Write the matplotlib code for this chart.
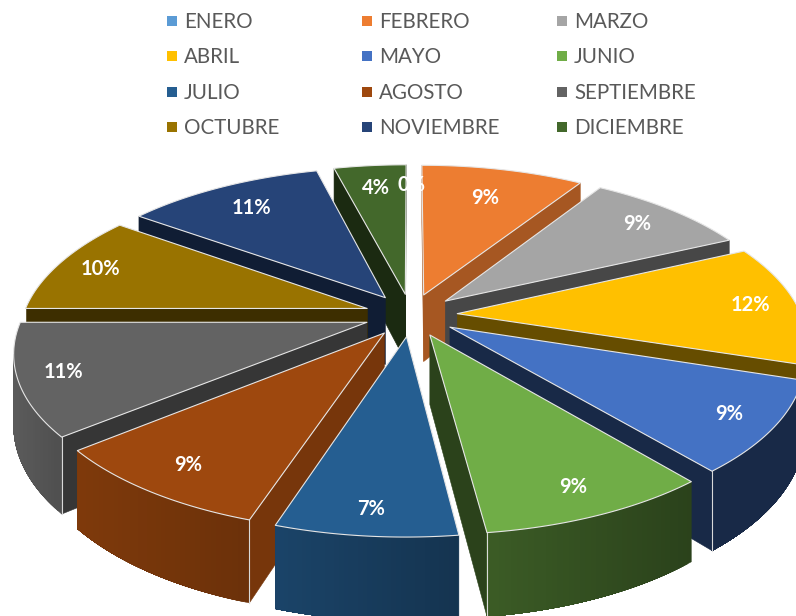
import numpy as np
import matplotlib
matplotlib.use('Agg')
import matplotlib.pyplot as plt
from matplotlib.colors import to_rgb

months = ['ENERO', 'FEBRERO', 'MARZO', 'ABRIL', 'MAYO', 'JUNIO', 'JULIO', 'AGOSTO',
          'SEPTIEMBRE', 'OCTUBRE', 'NOVIEMBRE', 'DICIEMBRE']
values = [0, 9, 9, 12, 9, 9, 7, 9, 11, 10, 11, 4]
colors = ['#5b9bd5', '#ed7d31', '#a5a5a5', '#ffc000', '#4472c4', '#70ad47',
          '#255e91', '#9e480e', '#636363', '#997300', '#264478', '#43682b']
# how dark the cut faces are, per slice
side_shade = [.6, .7, .43, .4, .36, .38, .5, .75, .55, .4, .43, .4]
# outer wall gradient, left end and right end
wall_left = [.5, .5, .5, .4, .36, .53, .72, .8, .92, .5, .5, .5]
wall_right = [.5, .5, .5, .4, .36, .38, .55, .68, .8, .5, .5, .5]
# radius of the percent label
label_r = [.82, .88, .97, 1.0, 1.01, 1.0, 1.02, .99, 1.01, 1.0, .93, .94]

CX, CY = 411, 315
RX, RY = 344, 158
PERSP = .17
EXPLODE = .135
DEPTH = 68

plt.rcParams['font.family'] = ['Lato', 'DejaVu Sans']


def project(x, y, z=0.):
    s = 1. / (1. - PERSP * y)
    return CX + RX * x * s, CY + (RY * y + DEPTH * z) * s


def rim(theta, r, off):
    return off[0] + r * np.sin(theta), off[1] - r * np.cos(theta)


def area(px, py):
    return 0.5 * np.sum(px * np.roll(py, -1) - np.roll(px, -1) * py)


def shade(color, f):
    return tuple(c * f for c in to_rgb(color))


def draw_wedge(ax, i, a0, a1):
    mid = (a0 + a1) / 2
    off = (EXPLODE * np.sin(mid), -EXPLODE * np.cos(mid))
    color = colors[i]
    thetas = np.linspace(a0, a1, 40)
    wx, wy = rim(thetas, 1., off)

    # cut faces, only the ones turned to the viewer
    face_on = []
    for t, sign in ((a0, 1), (a1, -1)):
        ex, ey = rim(t, 1., off)
        xs = np.array([off[0], ex, ex, off[0]])
        ys = np.array([off[1], ey, ey, off[1]])
        zs = np.array([0, 0, 1, 1])
        px, py = project(xs, ys, zs)
        on = area(px, py) * sign < 0
        face_on.append(on)
        if on:
            ax.fill(px, py, color=shade(color, side_shade[i]), lw=0.4, zorder=2)

    # outer wall with the gradient, every strip runs on to the end so no seams show
    tx, ty = project(wx, wy)
    bx, by = project(wx, wy, 1.)
    vis = [k for k in range(len(thetas) - 1)
           if area(np.array([tx[k], tx[k + 1], bx[k + 1], bx[k]]),
                   np.array([ty[k], ty[k + 1], by[k + 1], by[k]])) < 0]
    if vis:
        last = vis[-1] + 1
        xmin, xmax = tx[vis[0]:last + 1].min(), tx[vis[0]:last + 1].max()
        for k in vis:
            f = ((tx[k] + tx[k + 1]) / 2 - xmin) / max(xmax - xmin, 1)
            c = shade(color, wall_left[i] + (wall_right[i] - wall_left[i]) * f)
            sx = np.concatenate([tx[k:last + 1], bx[k:last + 1][::-1]])
            sy = np.concatenate([ty[k:last + 1], by[k:last + 1][::-1]])
            ax.fill(sx, sy, color=c, lw=0.3, zorder=2)
        if vis[0] == 0 and face_on[0]:
            ax.plot([tx[0], bx[0]], [ty[0], by[0]], color='#d9d9d9', lw=.8, zorder=2)
        if last == len(thetas) - 1 and face_on[1]:
            ax.plot([tx[last], bx[last]], [ty[last], by[last]], color='#d9d9d9', lw=.8, zorder=2)

    # top face
    ax_, ay_ = project(np.array([off[0]]), np.array([off[1]]))
    px = np.concatenate([ax_, tx])
    py = np.concatenate([ay_, ty])
    ax.fill(px, py, facecolor=color, edgecolor='#e6e6e6', lw=.8, joinstyle='round', zorder=2)


fig = plt.figure(figsize=(7.96, 6.16), dpi=100)
ax = fig.add_axes([0, 0, 1, 1])
ax.set_xlim(0, 796)
ax.set_ylim(616, 0)
ax.axis('off')

# slices clockwise from 12 o'clock
edges = 2 * np.pi * np.cumsum([0] + values) / sum(values)
order = sorted(range(len(values)), key=lambda i: -np.cos((edges[i] + edges[i + 1]) / 2))
for i in order:
    if values[i] > 0:
        draw_wedge(ax, i, edges[i], edges[i + 1])

for i, v in enumerate(values):
    mid = (edges[i] + edges[i + 1]) / 2
    if v == 0:
        lx, ly = project(0.0, -label_r[i] - EXPLODE)
    else:
        lx, ly = project(label_r[i] * np.sin(mid), -label_r[i] * np.cos(mid))
    ax.text(lx, ly, '%d%%' % v, color='white', fontsize=14.5, fontweight='bold',
            ha='center', va='center', zorder=5)

# legend, filled row by row
col_x = [172, 367, 562]
row_y = [21, 56, 92, 127]
for i, name in enumerate(months):
    c, r = i % 3, i // 3
    ax.scatter([col_x[c]], [row_y[r]], marker='s', s=48, color=colors[i], lw=0, zorder=5)
    ax.text(col_x[c] + 12, row_y[r] + 1, name, color='#595959', fontsize=14.8,
            ha='left', va='center', zorder=5)

plt.savefig('out.png', dpi=100)
